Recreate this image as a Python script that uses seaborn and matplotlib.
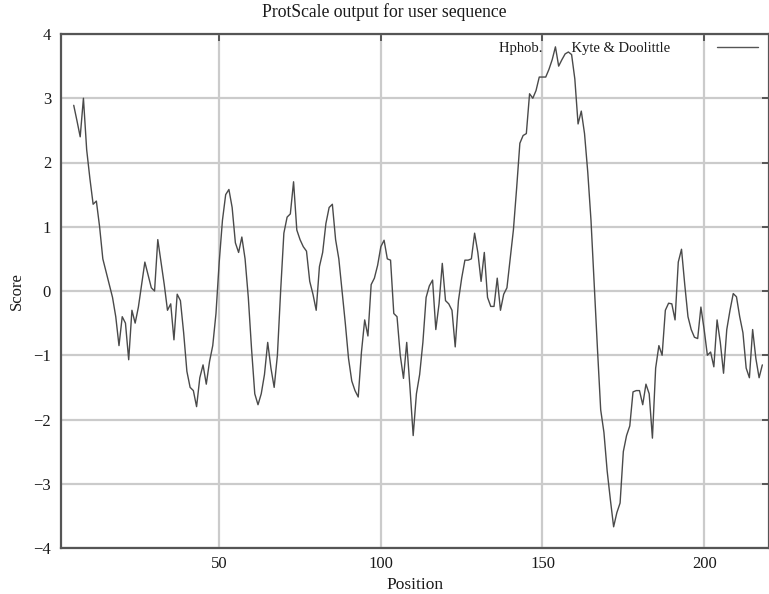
import numpy as np
import pandas as pd
import matplotlib
matplotlib.use("Agg")
import matplotlib.pyplot as plt
import seaborn as sns

# Kyte & Doolittle hydropathy profile (window of 9 residues), positions 5..218
positions = list(range(5, 219))
scores = [
    2.89, 2.65, 2.40, 3.00, 2.20, 1.75, 1.35, 1.40, 1.00, 0.50,      # 5-14
    0.30, 0.10, -0.10, -0.40, -0.85, -0.40, -0.50, -1.07, -0.30, -0.50,  # 15-24
    -0.25, 0.10, 0.45, 0.25, 0.05, 0.00, 0.80, 0.45, 0.10, -0.30,    # 25-34
    -0.20, -0.76, -0.05, -0.15, -0.65, -1.25, -1.50, -1.55, -1.80, -1.35,  # 35-44
    -1.15, -1.45, -1.10, -0.85, -0.35, 0.45, 1.10, 1.50, 1.58, 1.30,  # 45-54
    0.75, 0.60, 0.84, 0.50, -0.10, -0.90, -1.60, -1.77, -1.60, -1.30,  # 55-64
    -0.80, -1.20, -1.50, -1.00, 0.00, 0.90, 1.15, 1.20, 1.70, 0.95,  # 65-74
    0.80, 0.69, 0.62, 0.15, -0.05, -0.30, 0.38, 0.60, 1.05, 1.30,    # 75-84
    1.35, 0.80, 0.50, 0.00, -0.50, -1.05, -1.40, -1.55, -1.65, -0.95,  # 85-94
    -0.45, -0.70, 0.10, 0.20, 0.40, 0.69, 0.79, 0.50, 0.48, -0.35,   # 95-104
    -0.40, -1.00, -1.36, -0.80, -1.50, -2.25, -1.60, -1.30, -0.80, -0.10,  # 105-114
    0.08, 0.17, -0.60, -0.20, 0.43, -0.15, -0.20, -0.30, -0.87, -0.15,  # 115-124
    0.20, 0.48, 0.48, 0.50, 0.90, 0.60, 0.15, 0.60, -0.10, -0.24,    # 125-134
    -0.24, 0.20, -0.30, -0.05, 0.05, 0.50, 0.95, 1.60, 2.30, 2.42,   # 135-144
    2.45, 3.07, 3.00, 3.12, 3.33, 3.33, 3.33, 3.45, 3.60, 3.80,      # 145-154
    3.50, 3.60, 3.69, 3.72, 3.68, 3.30, 2.60, 2.80, 2.45, 1.85,      # 155-164
    1.10, 0.10, -0.90, -1.85, -2.20, -2.80, -3.25, -3.67, -3.45, -3.30,  # 165-174
    -2.50, -2.25, -2.10, -1.57, -1.55, -1.55, -1.77, -1.45, -1.60, -2.29,  # 175-184
    -1.20, -0.85, -1.00, -0.30, -0.19, -0.20, -0.45, 0.45, 0.65, 0.10,  # 185-194
    -0.40, -0.60, -0.72, -0.74, -0.25, -0.60, -1.00, -0.95, -1.18, -0.45,  # 195-204
    -0.80, -1.28, -0.60, -0.30, -0.04, -0.09, -0.40, -0.65, -1.20, -1.35,  # 205-214
    -0.60, -1.05, -1.35, -1.15,                                      # 215-218
]
x_ticks = [50, 100, 150, 200]
y_ticks = [-4, -3, -2, -1, 0, 1, 2, 3, 4]

df = pd.DataFrame({"Position": positions, "Score": scores})

sns.set_theme(style="white")
plt.rcParams["font.family"] = ["Liberation Serif", "DejaVu Serif"]
plt.rcParams["axes.unicode_minus"] = True

fig = plt.figure(figsize=(7.69, 5.94), dpi=100)
ax = fig.add_axes([60.8 / 769, 1 - 548 / 594, 708 / 769, 514 / 594])

frame_col = "#555555"
grid_col = "#cbcbcb"
text_col = "#1a1a1a"

sns.lineplot(data=df, x="Position", y="Score", ax=ax, color="#4a4a4a",
             linewidth=1.0, label="Hphob.        Kyte & Doolittle")

ax.set_xlim(1, 220)
ax.set_ylim(-4, 4)
ax.set_xticks(x_ticks)
ax.set_yticks(y_ticks)
ax.grid(True, color=grid_col, linewidth=1.6)
ax.set_axisbelow(True)

for side in ["left", "right", "top", "bottom"]:
    ax.spines[side].set_color(frame_col)
    ax.spines[side].set_linewidth(1.6)

ax.tick_params(axis="both", direction="in", length=5, width=1.4,
               color=frame_col, labelsize=12, labelcolor=text_col,
               top=True, right=True, labeltop=False, labelright=False)
ax.tick_params(axis="y", pad=7)
ax.tick_params(axis="x", pad=6)

ax.set_xlabel("Position", fontsize=12.5, color=text_col)
ax.set_ylabel("Score", fontsize=12, color=text_col)
ax.xaxis.set_label_coords(0.5, -0.056)
ax.yaxis.set_label_coords(-0.051, 0.5)

fig.text(0.5, 1 - 12 / 594, "ProtScale output for user sequence",
         ha="center", va="center", fontsize=12.7, color=text_col)

leg = ax.legend(loc="upper right", bbox_to_anchor=(0.9847, 0.9845),
                markerfirst=False, frameon=False, fontsize=10.5,
                handlelength=2.8, handletextpad=3.2, borderpad=0,
                borderaxespad=0, labelcolor=text_col)
for h in leg.legend_handles:
    h.set_color("#555555")

fig.savefig("out.png", dpi=100)
